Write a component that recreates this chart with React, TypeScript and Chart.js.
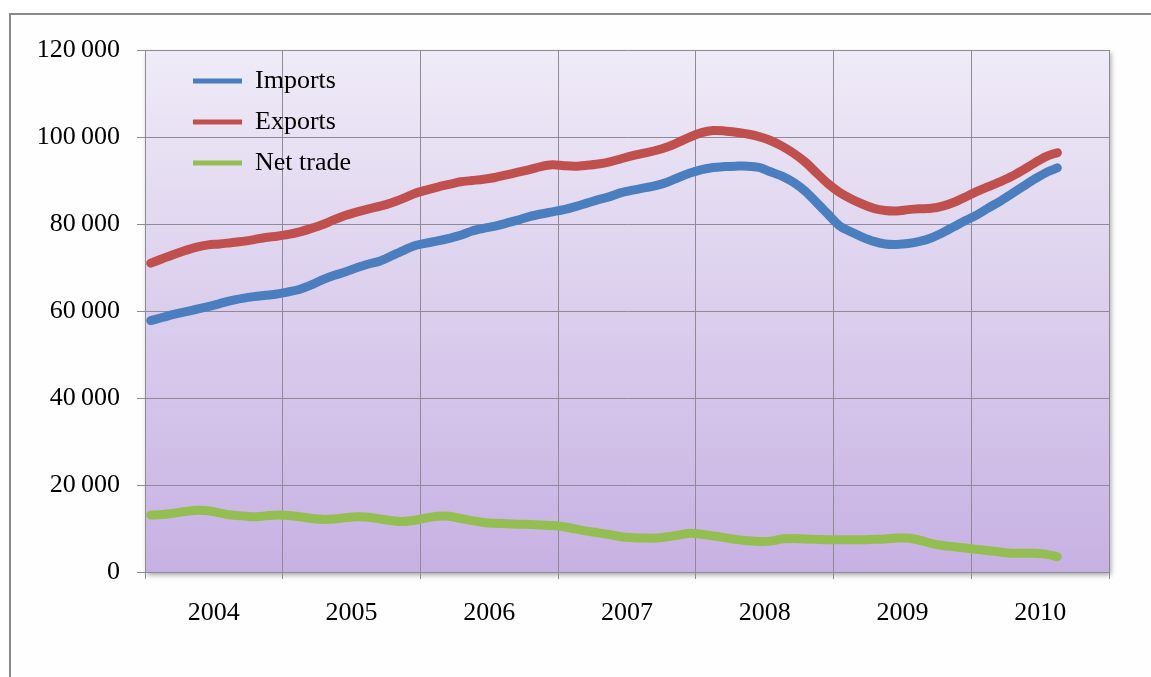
import React, { useEffect, useRef } from "react";
import { Chart, registerables } from "chart.js";

Chart.register(...registerables);

// Monthly series, January 2004 to August 2010
const years = ["2004", "2005", "2006", "2007", "2008", "2009", "2010"];
const monthsPerYear = 12;

const imports = [
  57800, 58500, 59200, 59800, 60400, 61000, 61700, 62400, 62900, 63300, 63600, 63900,
  64400, 65000, 66000, 67200, 68200, 69000, 70000, 70800, 71500, 72700, 73900, 75000,
  75600, 76100, 76700, 77400, 78400, 79000, 79500, 80200, 80900, 81700, 82300, 82800,
  83300, 84000, 84800, 85600, 86300, 87200, 87800, 88300, 88800, 89600, 90700, 91700,
  92500, 93000, 93200, 93300, 93300, 93000, 92000, 91000, 89600, 87600, 85000, 82300,
  79600, 78200, 77000, 76000, 75400, 75300, 75500, 76000, 76800, 78000, 79400, 80800,
  82100, 83700, 85200, 86900, 88600, 90300, 91800, 92900,
];

const exportsSeries = [
  71000, 72000, 73000, 73900, 74700, 75200, 75400, 75700, 76000, 76400, 76900, 77200,
  77600, 78200, 79000, 79900, 81000, 82000, 82800, 83500, 84100, 84900, 85900, 87000,
  87800, 88500, 89100, 89700, 90000, 90300, 90700, 91300, 91900, 92500, 93200, 93600,
  93400, 93300, 93500, 93800, 94300, 95000, 95700, 96300, 96900, 97700, 98800, 100000,
  101000, 101500, 101400, 101100, 100700, 100100, 99200, 97900, 96300, 94300, 91800, 89300,
  87300, 85800, 84600, 83600, 83100, 83000, 83300, 83500, 83600, 84100, 85000, 86200,
  87500, 88600, 89700, 90900, 92400, 94000, 95500, 96400,
];

const netTrade = [
  13100, 13200, 13500, 13900, 14200, 14100, 13600, 13100, 12900, 12700, 12900, 13100,
  13000, 12700, 12300, 12100, 12200, 12500, 12700, 12600, 12200, 11800, 11600, 11900,
  12400, 12800, 12800, 12300, 11800, 11400, 11200, 11100, 11000, 10900, 10800, 10700,
  10400, 9900, 9400, 9000, 8600, 8100, 7900, 7800, 7800, 8100, 8500, 8900,
  8700, 8300, 7900, 7500, 7200, 7000, 7100, 7600, 7700, 7600, 7500, 7400,
  7400, 7400, 7400, 7500, 7600, 7800, 7800, 7300, 6600, 6100, 5800, 5500,
  5200, 4900, 4600, 4300, 4300, 4300, 4100, 3500,
];

const seriesNames = ["Imports", "Exports", "Net trade"];
const seriesColors = ["#4a7ebf", "#c0504d", "#94be52"];

const yMax = 120000;
const yStep = 20000;

const fontFamily = "'Liberation Serif', 'Times New Roman', serif";
const fontSize = 26;
const gridColor = "#8e8a96";

const toPoints = (values: number[]) =>
  values.map((v, i) => ({ x: i + 0.5, y: v }));

const formatThousands = (v: number) =>
  String(v).replace(/\B(?=(\d{3})+(?!\d))/g, "\u2009");

// Lavender gradient panel behind the grid, with a soft drop shadow
const plotBackground = {
  id: "plotBackground",
  beforeDraw(chart: any) {
    const { ctx, chartArea } = chart;
    if (!chartArea) return;
    const { left, top, right, bottom } = chartArea;
    const g = ctx.createLinearGradient(0, top, 0, bottom);
    g.addColorStop(0, "#efebf7");
    g.addColorStop(1, "#c7b1e3");
    ctx.save();
    ctx.shadowColor = "rgba(0,0,0,0.35)";
    ctx.shadowBlur = 5;
    ctx.shadowOffsetX = 2;
    ctx.shadowOffsetY = 3;
    ctx.fillStyle = g;
    ctx.fillRect(left, top, right - left, bottom - top);
    ctx.restore();
  },
};

// Nudge the in-plot legend to sit a little inside the top-left corner
const legendPlacement = {
  id: "legendPlacement",
  afterLayout(chart: any) {
    const lg = chart.legend;
    const a = chart.chartArea;
    if (!lg || !a) return;
    const w = lg.width;
    lg.left = a.left + 33;
    lg.right = lg.left + w;
    lg.top = a.top + 3;
    lg.bottom = a.bottom;
  },
};

export default function App() {
  const canvasRef = useRef<HTMLCanvasElement | null>(null);

  useEffect(() => {
    const canvas = canvasRef.current;
    if (!canvas) return;
    const totalMonths = years.length * monthsPerYear;
    const halfYearPx = (1109 - 145) / years.length / 2;

    const chart = new Chart(canvas, {
      type: "line",
      data: {
        datasets: [imports, exportsSeries, netTrade].map((values, i) => ({
          label: seriesNames[i],
          data: toPoints(values),
          borderColor: seriesColors[i],
          backgroundColor: seriesColors[i],
          borderWidth: 9,
          borderCapStyle: "round" as const,
          borderJoinStyle: "round" as const,
          pointRadius: 0,
          tension: 0.3,
          fill: false,
        })),
      },
      options: {
        animation: false,
        responsive: false,
        devicePixelRatio: 1,
        layout: { padding: { left: 0, top: 50, right: 42, bottom: 0 } },
        plugins: {
          tooltip: { enabled: false },
          legend: {
            position: "chartArea",
            align: "start",
            labels: {
              boxWidth: 49,
              boxHeight: 5,
              padding: 15,
              color: "#000",
              font: { family: fontFamily, size: fontSize },
              generateLabels: (c: any) =>
                Chart.defaults.plugins.legend.labels
                  .generateLabels(c)
                  .map((l: any) => ({ ...l, lineWidth: 0, fillStyle: l.strokeStyle })),
            },
          },
        },
        scales: {
          x: {
            type: "linear",
            min: 0,
            max: totalMonths,
            afterBuildTicks: (scale: any) => {
              const t = [];
              for (let v = 0; v <= totalMonths; v += monthsPerYear) t.push({ value: v });
              scale.ticks = t;
            },
            afterFit: (scale: any) => {
              scale.height = 677 - 572;
            },
            ticks: {
              autoSkip: false,
              maxRotation: 0,
              labelOffset: halfYearPx,
              padding: 19,
              color: "#000",
              font: { family: fontFamily, size: fontSize },
              callback: (value: any) => {
                const idx = Math.round(Number(value) / monthsPerYear);
                return idx < years.length ? years[idx] : "";
              },
            },
            grid: { color: gridColor, lineWidth: 1, tickLength: 7, drawTicks: true },
            border: { color: gridColor, width: 1 },
          },
          y: {
            type: "linear",
            min: 0,
            max: yMax,
            afterFit: (scale: any) => {
              scale.width = 145;
            },
            ticks: {
              stepSize: yStep,
              padding: 17,
              color: "#000",
              font: { family: fontFamily, size: fontSize },
              callback: (value: any) => formatThousands(Number(value)),
            },
            grid: { color: gridColor, lineWidth: 1, tickLength: 8, drawTicks: true },
            border: { color: gridColor, width: 1 },
          },
        },
      },
      plugins: [plotBackground, legendPlacement],
    } as any);

    return () => chart.destroy();
  }, []);

  return (
    <div style={{ position: "absolute", left: 0, top: 0, width: 1151, height: 677, overflow: "hidden", background: "#fff" }}>
      <div
        style={{
          position: "absolute",
          left: 9,
          top: 13,
          right: -4,
          bottom: -4,
          borderLeft: "2px solid #8a8a8a",
          borderTop: "2px solid #8a8a8a",
          background: "#fefefe",
        }}
      />
      <canvas
        ref={canvasRef}
        width={1151}
        height={677}
        style={{ position: "absolute", left: 0, top: 0, width: 1151, height: 677 }}
      />
    </div>
  );
}
